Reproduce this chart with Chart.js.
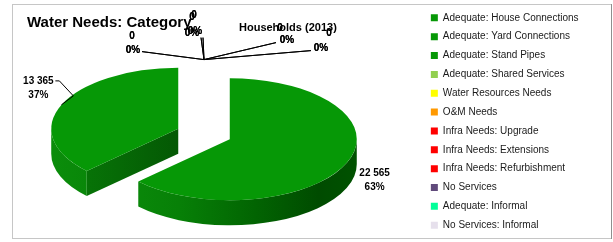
<!DOCTYPE html>
<html>
<head>
<meta charset="utf-8">
<script src="https://cdn.jsdelivr.net/npm/chart.js@4.4.0/dist/chart.umd.min.js"></script>
<style>
  html, body { margin: 0; padding: 0; background: #fff; }
  #wrap { width: 613px; height: 242px; }
</style>
</head>
<body>
<div id="wrap"><canvas id="waterChart"></canvas></div>
<script>
// Water needs by category, households (2013)
const categories = [
    'Adequate: House Connections', 'Adequate: Yard Connections', 'Adequate: Stand Pipes',
    'Adequate: Shared Services', 'Water Resources Needs', 'O&M Needs',
    'Infra Needs: Upgrade', 'Infra Needs: Extensions', 'Infra Needs: Refurbishment',
    'No Services', 'Adequate: Informal', 'No Services: Informal'
];
const households = [22565, 13365, 0, 0, 0, 0, 0, 0, 0, 0, 0, 0];
const titleParts = ['Water Needs: Category', 'Households (2013)'];

// styles
const sliceColors = ['#069806', '#069806', '#069806', '#92d050', '#ffff00', '#ff9900',
    '#ff0000', '#ff0000', '#ff0000', '#604a7b', '#00ff99', '#e6e0ec'];
const FONT = '"Liberation Sans", Arial, sans-serif';

// tilted pie: centre on screen, vertical squash, thickness, explode distance
const PIE = { cx: 204, cy: 134, tilt: 0.48, depth: 25, explode: 28 };

// label placement relative to the slice's rim point (value line, percent line, leader points)
const Z1 = { value: [-72, -23], pct: [-71, -9], leader: [[-62, -8]] };
const Z2 = { value: [-12, -42], pct: [-12, -26], leader: [[-3, -22]] };
const Z3 = { value: [-10, -44], pct: [-9, -28], leader: [[-1, -22]] };
const Z4 = { value: [76, -31], pct: [83, -19], leader: [[72, -17]] };
const Z5 = { value: [125, -26], pct: [117, -11], leader: [[107, -9]] };
const labelSpots = [
    { value: [28, 10], pct: [28, 24], leader: null },
    { value: [-23, -24], pct: [-23, -10], leader: [[12, -9], [-2, -24], [-6, -24]] },
    Z1, Z2, Z3, Z4, Z5, Z1, Z2, Z3, Z4, Z5
];

// legend placement: box left edge at x=432
const LEGEND_PAD = 8.85;
const measure = document.createElement('canvas').getContext('2d');
measure.font = '10px ' + FONT;
const longest = Math.max(...categories.map(c => measure.measureText(c).width));
const legendWidth = LEGEND_PAD * 2 + 7 + 5 + longest;
const rightPad = 613 - (432 - LEGEND_PAD) - legendWidth;

function sliceCenter(arc) {
    const mid = (arc.startAngle + arc.endAngle) / 2;
    return {
        x: PIE.cx + Math.cos(mid) * PIE.explode,
        y: PIE.cy + Math.sin(mid) * PIE.explode * PIE.tilt
    };
}

function rimPoint(c, r, a, drop) {
    return { x: c.x + Math.cos(a) * r, y: c.y + Math.sin(a) * r * PIE.tilt + (drop || 0) };
}

function formatNumber(v) {
    return String(v).replace(/\B(?=(\d{3})+(?!\d))/g, ' ');
}

const frame = {
    id: 'frame',
    beforeDraw(chart) {
        const ctx = chart.ctx;
        ctx.save();
        ctx.strokeStyle = '#c6c6c6';
        ctx.lineWidth = 1;
        ctx.strokeRect(12.5, 4.5, 599, 234);
        ctx.strokeStyle = '#8f8f8f';
        ctx.beginPath();
        ctx.moveTo(611.5, 4);
        ctx.lineTo(611.5, 239);
        ctx.stroke();
        ctx.restore();
    },
    afterDraw(chart) {
        const ctx = chart.ctx;
        ctx.save();
        ctx.fillStyle = '#000';
        ctx.textBaseline = 'alphabetic';
        ctx.font = 'bold 15px ' + FONT;
        ctx.fillText(titleParts[0], 27, 27);
        ctx.font = 'bold 11px ' + FONT;
        ctx.fillText(titleParts[1], 239, 31);
        ctx.restore();
    }
};

// draws the pie as a thick tilted disc, then the tops through the arc elements
const pie3d = {
    id: 'pie3d',
    beforeDatasetsDraw(chart) {
        const ctx = chart.ctx;
        const arcs = chart.getDatasetMeta(0).data;
        const k = PIE.tilt, d = PIE.depth;

        // sides first
        arcs.forEach(arc => {
            const s = arc.startAngle, e = arc.endAngle, r = arc.outerRadius;
            if (e - s <= 0) return;
            const c = sliceCenter(arc);

            // cut faces, only the ones turned towards the viewer
            const faces = [];
            if (Math.cos(s) < -0.01) faces.push(s);
            if (Math.cos(e) > 0.01) faces.push(e);
            faces.forEach(a => {
                const p = rimPoint(c, r, a);
                const g = ctx.createLinearGradient(Math.min(p.x, c.x), 0, Math.max(p.x, c.x), 0);
                g.addColorStop(0, '#077307');
                g.addColorStop(1, '#045804');
                ctx.fillStyle = g;
                ctx.beginPath();
                ctx.moveTo(c.x, c.y);
                ctx.lineTo(p.x, p.y);
                ctx.lineTo(p.x, p.y + d);
                ctx.lineTo(c.x, c.y + d);
                ctx.closePath();
                ctx.fill();
            });

            // outer wall on the front half
            const a0 = Math.max(s, 0), a1 = Math.min(e, Math.PI);
            if (a1 > a0) {
                const g = ctx.createLinearGradient(c.x - r, 0, c.x + r, 0);
                g.addColorStop(0, '#0b8d0b');
                g.addColorStop(0.3, '#078007');
                g.addColorStop(0.6, '#026402');
                g.addColorStop(0.85, '#004b00');
                g.addColorStop(1, '#005200');
                ctx.fillStyle = g;
                ctx.beginPath();
                ctx.ellipse(c.x, c.y, r, r * k, 0, a0, a1);
                ctx.ellipse(c.x, c.y + d, r, r * k, 0, a1, a0, true);
                ctx.closePath();
                ctx.fill();
            }
        });

        // tops
        arcs.forEach(arc => {
            if (arc.endAngle - arc.startAngle <= 0) return;
            const c = sliceCenter(arc);
            ctx.save();
            ctx.translate(c.x, c.y);
            ctx.scale(1, k);
            ctx.translate(-arc.x, -arc.y);
            arc.draw(ctx);
            ctx.restore();
        });
        return false;
    },
    // data labels (afterDatasetsDraw is skipped once the default draw is cancelled)
    afterDraw(chart) {
        const ctx = chart.ctx;
        const arcs = chart.getDatasetMeta(0).data;
        const total = households.reduce((a, b) => a + b, 0);
        ctx.save();
        ctx.font = 'bold 10px ' + FONT;
        ctx.fillStyle = '#000';
        ctx.strokeStyle = '#000';
        ctx.lineWidth = 1;
        ctx.textAlign = 'center';
        ctx.textBaseline = 'middle';
        arcs.forEach((arc, i) => {
            const spot = labelSpots[i];
            const mid = (arc.startAngle + arc.endAngle) / 2;
            const a = rimPoint(sliceCenter(arc), arc.outerRadius, mid);
            if (spot.leader) {
                ctx.beginPath();
                ctx.moveTo(a.x, a.y);
                spot.leader.forEach(([dx, dy]) => ctx.lineTo(a.x + dx, a.y + dy));
                ctx.stroke();
            }
            const pct = Math.round(households[i] / total * 100) + '%';
            ctx.fillText(formatNumber(households[i]), a.x + spot.value[0], a.y + spot.value[1]);
            ctx.fillText(pct, a.x + spot.pct[0], a.y + spot.pct[1]);
        });
        ctx.restore();
    }
};

const chart = new Chart(document.getElementById('waterChart'), {
    type: 'pie',
    data: {
        labels: categories,
        datasets: [{
            data: households,
            backgroundColor: sliceColors,
            borderWidth: 0,
            borderColor: 'rgba(0,0,0,0)',
            radius: 127
        }]
    },
    options: {
        responsive: true,
        maintainAspectRatio: false,
        animation: false,
        layout: { padding: { left: 0, right: rightPad, top: 4, bottom: 0 } },
        plugins: {
            title: { display: false },
            tooltip: { enabled: false },
            legend: {
                position: 'right',
                align: 'start',
                labels: {
                    boxWidth: 7,
                    boxHeight: 7,
                    padding: LEGEND_PAD,
                    color: '#1a1a1a',
                    font: { family: FONT, size: 10 }
                }
            }
        }
    },
    plugins: [frame, pie3d]
});
</script>
</body>
</html>
